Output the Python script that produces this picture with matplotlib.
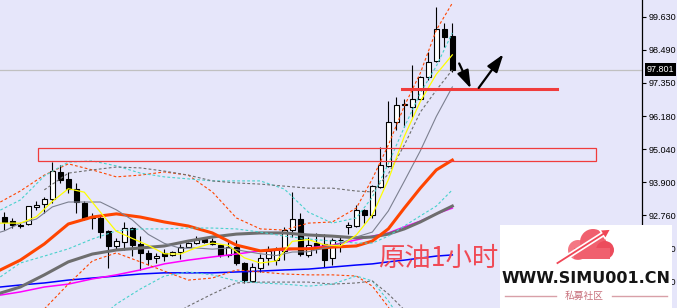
import numpy as np
import matplotlib.pyplot as plt
from matplotlib.patches import Rectangle, Circle, FancyArrow
from matplotlib.transforms import blended_transform_factory

# ---- candles (crude oil, 1h), left to right ----
opens = [92.71, 92.56, 92.41, 92.46, 93.06, 93.15, 93.33, 94.26, 94.02, 93.67,
         93.20, 92.71, 92.67, 92.23, 91.71, 91.85, 92.31, 91.76, 91.47, 91.27,
         91.45, 91.38, 91.48, 91.68, 91.79, 91.93, 91.88, 91.73, 91.39, 91.68,
         91.10, 90.50, 90.95, 91.27, 91.21, 91.54, 92.25, 92.62, 91.39, 91.79,
         91.76, 91.27, 91.91, 92.35, 92.40, 92.94, 92.77, 93.73, 94.48, 95.98,
         96.58, 96.52, 96.77, 97.53, 98.10, 99.20, 98.96]
highs = [92.89, 92.67, 92.49, 93.08, 93.27, 93.40, 94.62, 94.50, 94.27, 93.87,
         93.26, 92.84, 92.74, 92.25, 91.99, 92.54, 92.36, 92.05, 91.56, 91.46,
         91.60, 91.53, 91.76, 91.84, 92.05, 92.00, 91.99, 91.76, 91.85, 91.91,
         91.16, 91.10, 91.41, 91.70, 91.68, 92.37, 93.58, 92.85, 92.00, 92.14,
         92.11, 91.99, 92.02, 92.54, 93.12, 92.97, 93.81, 95.13, 96.73, 96.86,
         96.77, 97.96, 97.58, 98.42, 99.98, 99.42, 99.42]
lows = [92.25, 92.32, 92.33, 92.43, 92.94, 92.84, 93.19, 93.87, 93.52, 92.85,
        92.60, 92.29, 91.97, 90.93, 91.56, 91.56, 91.35, 90.87, 91.04, 91.11,
        91.19, 91.35, 91.24, 91.65, 91.76, 91.79, 91.73, 91.33, 91.33, 91.04,
        90.41, 90.46, 90.81, 91.04, 91.04, 91.21, 92.02, 91.35, 91.33, 91.45,
        90.98, 91.04, 91.50, 92.11, 92.37, 92.48, 92.66, 93.70, 94.44, 95.71,
        95.83, 96.17, 96.75, 97.44, 98.07, 98.59, 97.73]
closes = [92.54, 92.43, 92.40, 93.08, 93.12, 93.33, 94.29, 93.98, 93.67, 93.23,
          92.62, 92.66, 92.19, 91.70, 91.87, 92.31, 91.73, 91.45, 91.25, 91.35,
          91.36, 91.48, 91.68, 91.79, 91.91, 91.85, 91.76, 91.39, 91.68, 91.10,
          90.52, 90.96, 91.29, 91.53, 91.59, 92.25, 92.62, 91.42, 91.73, 91.71,
          91.21, 91.91, 91.92, 92.43, 92.94, 92.77, 93.77, 94.50, 95.98, 96.58,
          96.60, 96.77, 97.56, 98.07, 99.20, 98.94, 97.80]

# ---- fast lines, read every 2 bars ----
ma_x = [-0.5, 0] + list(range(2, 57, 2))
ma_yellow = [92.49, 92.49, 92.49, 92.71, 93.24, 93.68, 93.56, 92.87, 92.21, 91.96,
             91.72, 91.43, 91.42, 91.64, 91.80, 91.72, 91.29, 91.11, 91.18, 91.86,
             91.92, 91.74, 91.70, 92.08, 92.77, 93.99, 95.49, 96.70, 97.64, 98.31]
ma_thin = [92.18, 92.22, 92.49, 92.63, 93.05, 93.22, 93.22, 93.22, 92.95, 92.60,
           92.10, 91.79, 91.62, 91.63, 91.59, 91.63, 91.52, 91.43, 91.37, 91.49,
           91.50, 91.63, 91.79, 92.01, 92.18, 92.91, 93.94, 94.99, 96.18, 97.20]

# ---- slow lines and bands, coarser grid ----
grid_x = [-0.5, 2, 5, 8, 11, 14, 17, 20, 23, 26, 29, 32, 35, 38, 41, 44, 46, 48, 50, 52, 54, 56]
ma_orange = [90.87, 91.21, 91.77, 92.46, 92.70, 92.81, 92.70, 92.53, 92.39, 92.15, 91.73,
             91.53, 91.60, 91.60, 91.66, 91.70, 91.87, 92.29, 93.01, 93.70, 94.33, 94.67]
ma_gray = [90.07, 90.28, 90.70, 91.15, 91.42, 91.56, 91.63, 91.70, 91.87, 92.01, 92.11,
           92.15, 92.15, 92.08, 92.04, 91.98, 92.01, 92.11, 92.29, 92.53, 92.81, 93.08]
ma_magenta = [90.00, 90.11, 90.28, 90.38, 90.56, 90.70, 90.87, 91.08, 91.21, 91.32, 91.42,
              91.53, 91.56, 91.63, 91.73, 91.91, 92.04, 92.15, 92.36, 92.56, 92.81, 93.01]
ma_blue = [90.28, 90.35, 90.42, 90.52, 90.59, 90.66, 90.73, 90.77, 90.77, 90.77, 90.80,
           90.83, 90.87, 90.90, 90.97, 91.04, 91.08, 91.15, 91.21, 91.28, 91.35, 91.39]
orange_up = [93.22, 93.60, 94.15, 94.54, 94.33, 94.09, 94.15, 94.26, 94.15, 93.57, 92.67,
             92.29, 92.25, 92.49, 92.53, 93.01, 94.02, 95.19, 96.54, 97.68, 99.17, 100.10]
cyan_up = [92.94, 93.29, 94.12, 94.60, 94.64, 94.47, 94.22, 94.09, 94.02, 93.95, 93.95,
           93.95, 93.67, 92.87, 92.49, 92.67, 93.39, 94.54, 95.81, 96.99, 97.92, 99.07]
cyan_mid = [90.63, 91.11, 91.35, 91.60, 91.94, 92.22, 92.29, 92.29, 92.32, 92.32, 92.29,
            92.18, 92.04, 91.94, 91.87, 91.80, 91.80, 92.04, 92.39, 92.74, 93.08, 93.64]

orange_lo_x = [5, 8, 11, 14, 17, 20, 23, 26, 29, 32, 35, 38, 41, 44, 46, 48, 50]
orange_lo = [89.52, 90.38, 91.18, 91.46, 91.15, 90.83, 90.52, 90.59, 90.87, 90.80, 90.73,
             90.70, 90.70, 90.66, 90.31, 89.59, 88.62]
cyan_lo_x = [11, 14, 17, 20, 23, 26, 29, 32, 35, 38, 41, 44, 46, 48, 50]
cyan_lo = [88.97, 89.69, 90.21, 90.66, 90.80, 90.70, 90.49, 90.42, 90.38, 90.31, 90.38,
           90.66, 90.49, 89.80, 88.97]
gray_up_x = [5, 8, 11, 14, 17, 20, 23, 26, 29, 32, 35, 38, 41, 44, 46, 48, 50, 52, 54, 56]
gray_up = [93.64, 94.22, 94.33, 94.43, 94.40, 94.29, 94.15, 93.95, 93.88, 93.84, 93.77,
           93.70, 93.70, 93.60, 93.57, 94.19, 95.19, 96.33, 97.09, 97.79]
gray_lo_x = [20, 23, 26, 29, 32, 35, 38, 41, 44, 46, 48, 50]
gray_lo = [89.14, 89.62, 90.04, 90.42, 90.45, 90.45, 90.45, 90.38, 90.42, 90.49, 90.04, 89.49]

# ---- axis / annotations ----
price_ticks = [99.630, 98.490, 97.350, 96.180, 95.040, 93.900, 92.760, 91.620, 90.480]
last_price = 97.801
zone_x = [4.25, 73.93]
zone_y = [94.63, 95.08]
support_x = [49.7, 69.05]
support_y = 97.14
arrow_down = [(56.71, 98.10), (58.46, 97.06)]
arrow_up = [(59.09, 97.09), (62.59, 98.41)]
label_pos = (46.7, 91.28)

BG = '#e6e6fa'
plt.rcParams['font.family'] = ['Liberation Sans', 'DejaVu Sans']

fig = plt.figure(figsize=(6.77, 3.08), dpi=100, facecolor=BG)
ax = fig.add_axes([0, 0, 642 / 677, 1])
ax.set_facecolor(BG)
ax.set_xlim(-0.54, 79.71)
ax.set_ylim(89.554, 100.208)

# current price line
ax.axhline(last_price, color='#c0c0c0', lw=0.9, zorder=1)

# candles
x = np.arange(len(opens))
o = np.array(opens)
c = np.array(closes)
up = c >= o
ax.vlines(x, lows, highs, color='black', lw=0.8, zorder=2)
ax.bar(x[up], (c - o)[up], bottom=o[up], width=0.6, color='white',
       edgecolor='black', lw=0.8, zorder=3)
ax.bar(x[~up], (o - c)[~up], bottom=c[~up], width=0.6, color='black',
       edgecolor='black', lw=0.8, zorder=3)

# indicator lines
dot = (0, (2.5, 2))
ax.plot(grid_x, ma_blue, color='#0000ff', lw=1.1, zorder=4)
ax.plot(grid_x, ma_magenta, color='#ff00ff', lw=1.1, zorder=4)
ax.plot(grid_x, ma_gray, color='#6e6e6e', lw=2.2, zorder=4)
ax.plot(grid_x, ma_orange, color='#ff4500', lw=2.2, zorder=4)
ax.plot(ma_x, ma_thin, color='#7c8090', lw=0.8, zorder=4)
ax.plot(ma_x, ma_yellow, color='#ffff00', lw=0.9, zorder=5)
ax.plot(grid_x, orange_up, color='#ff4500', lw=0.8, ls=dot, zorder=4)
ax.plot(orange_lo_x, orange_lo, color='#ff4500', lw=0.8, ls=dot, zorder=4)
ax.plot(grid_x, cyan_up, color='#48d1cc', lw=0.8, ls=dot, zorder=4)
ax.plot(grid_x, cyan_mid, color='#48d1cc', lw=0.8, ls=dot, zorder=4)
ax.plot(cyan_lo_x, cyan_lo, color='#48d1cc', lw=0.8, ls=dot, zorder=4)
ax.plot(gray_up_x, gray_up, color='#6e6e6e', lw=0.8, ls=dot, zorder=4)
ax.plot(gray_lo_x, gray_lo, color='#6e6e6e', lw=0.8, ls=dot, zorder=4)

# hand-drawn marks
ax.add_patch(Rectangle((zone_x[0], zone_y[0]), zone_x[1] - zone_x[0], zone_y[1] - zone_y[0],
                       fill=False, edgecolor='#f03c3c', lw=0.9, zorder=6))
ax.plot(support_x, [support_y, support_y], color='#f03c3c', lw=2.2, zorder=6)
for a in (arrow_down, arrow_up):
    ax.annotate('', xy=a[1], xytext=a[0], zorder=7,
                arrowprops=dict(arrowstyle='-|>,head_length=0.9,head_width=0.3',
                                color='black', lw=1.6, mutation_scale=12))
ax.text(label_pos[0], label_pos[1], '原油1小时', fontsize=19, color='#f04a55',
        ha='left', va='center', family=['Noto Sans CJK SC', 'DejaVu Sans'], zorder=8)

# axes styling
for s in ['top', 'left', 'bottom']:
    ax.spines[s].set_visible(False)
ax.spines['right'].set_color('black')
ax.spines['right'].set_linewidth(0.9)
ax.set_xticks([])
ax.yaxis.tick_right()
ax.set_yticks(price_ticks)
ax.set_yticklabels([f'{v:.3f}' for v in price_ticks])
ax.tick_params(axis='y', direction='out', length=3, width=0.8, pad=2,
               labelsize=6.5, colors='black')

trans = blended_transform_factory(ax.transAxes, ax.transData)
ax.text(1 + 5 / 642, last_price, f'{last_price:.3f}', transform=trans, ha='left', va='center',
        fontsize=6.5, color='white', zorder=9, clip_on=False,
        bbox=dict(facecolor='black', edgecolor='none', pad=1.2))

# watermark box (pixel units inside)
wm = fig.add_axes([500 / 677, 0, 172 / 677, 83 / 308])
wm.set_xlim(500, 672)
wm.set_ylim(308, 225)
wm.set_facecolor('white')
wm.set_xticks([])
wm.set_yticks([])
for s in wm.spines.values():
    s.set_visible(False)
wm.add_patch(Circle((578, 250), 10, fc='#f47884', ec='none'))
wm.add_patch(Circle((593, 242), 13, fc='#f0606e', ec='none'))
wm.add_patch(Circle((605, 250), 9, fc='#ec4c5c', ec='none'))
wm.add_patch(Rectangle((574, 248), 36, 11, fc='#f0606e', ec='none'))
wm.add_patch(FancyArrow(556, 264, 55, -35, width=3.5, head_width=11, head_length=10,
                        length_includes_head=True, fc='#f04656', ec='white', lw=1.2))
wm.text(586, 279, 'WWW.SIMU001.CN', ha='center', va='center', fontsize=11.5,
        fontweight='bold', color='#151515', family='DejaVu Sans')
wm.text(584, 296, '私募社区', ha='center', va='center', fontsize=7, color='#c8707c',
        family=['Noto Sans CJK SC', 'DejaVu Sans'])
wm.plot([505, 556], [296, 296], color='#d8a0a8', lw=1)
wm.plot([612, 667], [296, 296], color='#d8a0a8', lw=1)

fig.savefig('out.png', dpi=100, facecolor=BG)
